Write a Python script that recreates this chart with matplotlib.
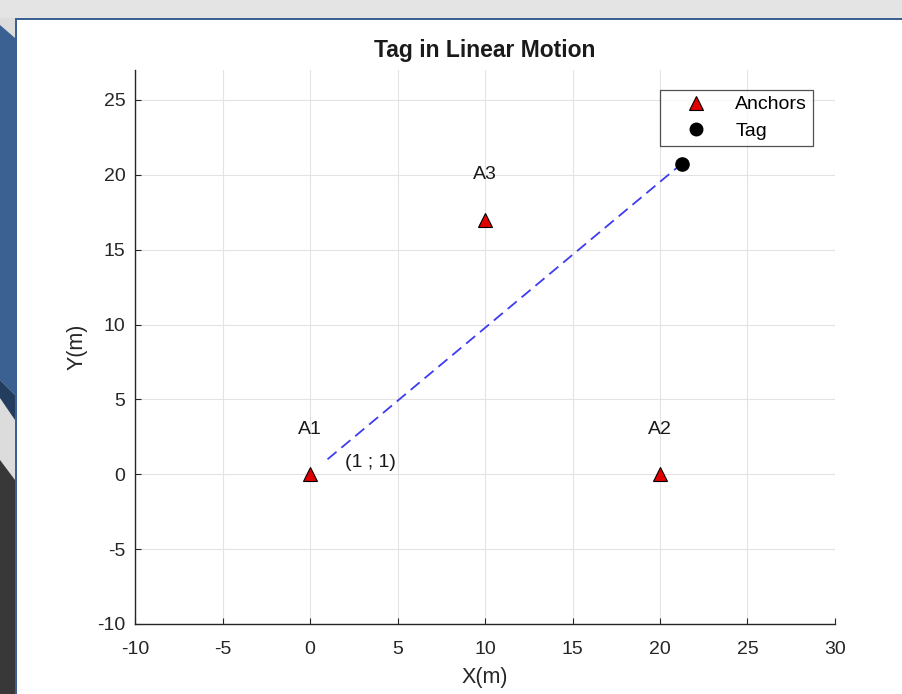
import numpy as np
import matplotlib
matplotlib.use("Agg")
import matplotlib.pyplot as plt
from matplotlib.patches import Polygon

plt.rcParams['font.family'] = ['Liberation Sans', 'DejaVu Sans']
plt.rcParams['axes.unicode_minus'] = False

# ---------------------------------------------------------------------
# Data
# ---------------------------------------------------------------------
anchor_x     = [0, 20, 10]
anchor_y     = [0, 0, 17]
anchor_names = ["A1", "A2", "A3"]

path_x = [1, 21.25]          # tag start -> current position
path_y = [1, 20.75]
start_label = "(1 ; 1)"

x_ticks = [-10, -5, 0, 5, 10, 15, 20, 25, 30]
y_ticks = [-10, -5, 0, 5, 10, 15, 20, 25]

W, H = 903, 694
fig = plt.figure(figsize=(W / 100, H / 100), dpi=100)


def px(x, y):
    # pixel (top-left origin) -> figure fraction
    return (x / W, 1 - y / H)


# ---------------------------------------------------------------------
# slide background around the figure
# ---------------------------------------------------------------------
def poly(pts, color):
    fig.patches.append(Polygon([px(*p) for p in pts], closed=True,
                               transform=fig.transFigure, color=color,
                               zorder=-10, linewidth=0))

poly([(0, 0), (W, 0), (W, 18), (0, 18)], "#e4e4e4")
poly([(0, 18), (16, 18), (16, H), (0, H)], "#dcdcdc")
poly([(0, 25), (15, 38), (15, 395), (0, 380)], "#3b6192")
poly([(0, 380), (15, 395), (15, 420), (0, 398)], "#233d5e")
poly([(0, 460), (15, 480), (15, H), (0, H)], "#383838")
poly([(15, 18), (W, 18), (W, 20), (15, 20)], "#3b6192")
poly([(15, 18), (17, 18), (17, H), (15, H)], "#3b6192")

# ---------------------------------------------------------------------
# axes
# ---------------------------------------------------------------------
l, t = px(135, 70)
r, b = px(835, 624)
ax = fig.add_axes([l, b, r - l, t - b])
ax.set_xlim(-10, 30)
ax.set_ylim(-10, 27)
ax.set_xticks(x_ticks)
ax.set_yticks(y_ticks)
ax.grid(True, color="#e3e3e3", linewidth=0.8)
ax.set_axisbelow(True)
for s in ["top", "right"]:
    ax.spines[s].set_visible(False)
for s in ["left", "bottom"]:
    ax.spines[s].set_color("#262626")
    ax.spines[s].set_linewidth(1.0)
ax.tick_params(direction="in", length=4, width=0.8, color="#262626",
               labelsize=14, labelcolor="#262626")
ax.tick_params(axis="x", pad=12)
ax.tick_params(axis="y", pad=7)

ax.plot(path_x, path_y, color="#3c3cf0", linewidth=1.3,
        dashes=(6.5, 3.5), zorder=2)

ax.plot(anchor_x, anchor_y, linestyle="none", marker="^", markersize=10.5,
        markerfacecolor="#e00000", markeredgecolor="black",
        markeredgewidth=0.8, label="Anchors", zorder=3)
ax.plot([path_x[-1]], [path_y[-1]], linestyle="none", marker="o",
        markersize=9.5, color="black", label="Tag", zorder=3)

for xa, ya, name in zip(anchor_x, anchor_y, anchor_names):
    ax.text(xa, ya + 3, name, ha="center", va="center", fontsize=14,
            color="#1a1a1a")
ax.text(path_x[0] + 1, path_y[0] - 0.2, start_label, ha="left",
        va="center", fontsize=14, color="#1a1a1a")

ax.set_title("Tag in Linear Motion", fontsize=16.5, fontweight="bold",
             color="#1a1a1a", pad=9)
ax.set_xlabel("X(m)", fontsize=15.5, color="#262626")
ax.set_ylabel("Y(m)", fontsize=15.5, color="#262626")
ax.xaxis.set_label_coords(0.5, -0.077)
ax.yaxis.set_label_coords(-0.068, 0.5)

leg = ax.legend(loc="upper right", bbox_to_anchor=(0.9686, 0.9639),
                borderaxespad=0, fontsize=14, frameon=True, fancybox=False,
                edgecolor="#262626", handlelength=3.1, handletextpad=0.45,
                borderpad=0.3, labelspacing=0.45, markerscale=0.95)
leg.get_frame().set_linewidth(0.9)

fig.savefig("out.png", dpi=100)
